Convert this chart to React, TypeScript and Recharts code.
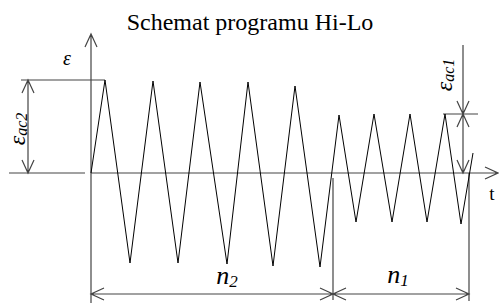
import React from 'react';
import { LineChart, Line, XAxis, YAxis, ReferenceLine, ReferenceDot } from 'recharts';

// Przebieg odkształcenia (czas, odkształcenie) odczytany ze schematu
const cycleT = [0, 14, 39, 62, 87, 109, 136, 157, 182, 204, 229, 248, 265, 283, 301, 319, 336, 354, 370, 382];
const strain = [0, 93, -90, 92, -90, 91, -91, 91, -93, 87, -94, 58, -49, 59, -49, 59, -49, 59, -51, 20];

// Poziomy amplitud i granice bloków
const epsAc2 = 93;
const epsAc1 = 59;
const blockEnd = 242;
const progEnd = 378;
const dimLevel = -121;

const data = cycleT.map((t, i) => ({ t, eps: strain[i] }));

const SERIF = '"Liberation Serif", "Times New Roman", serif';
const AXIS = '#444';

function head(x: number, y: number, dx: number, dy: number) {
  const L = 13, W = 6;
  const bx = x - dx * L, by = y - dy * L;
  const px = -dy, py = dx;
  return `M${bx + px * W},${by + py * W}L${x},${y}L${bx - px * W},${by - py * W}`;
}

const dimLine = (start: boolean, end: boolean, color = AXIS, w = 1.2) => (p: any) => {
  const { x1, y1, x2, y2 } = p;
  const len = Math.hypot(x2 - x1, y2 - y1) || 1;
  const dx = (x2 - x1) / len, dy = (y2 - y1) / len;
  let d = `M${x1},${y1}L${x2},${y2}`;
  if (end) d += head(x2, y2, dx, dy);
  if (start) d += head(x1, y1, -dx, -dy);
  return <path d={d} fill="none" stroke={color} strokeWidth={w} />;
};

const seg = (xa: number, ya: number, xb: number, yb: number, start = false, end = false) => (
  <ReferenceLine
    segment={[{ x: xa, y: ya }, { x: xb, y: yb }]}
    ifOverflow="visible"
    shape={dimLine(start, end)}
  />
);

const textAt = (x: number, y: number, render: (cx: number, cy: number) => React.ReactNode) => (
  <ReferenceDot
    x={x}
    y={y}
    r={0}
    fill="none"
    stroke="none"
    ifOverflow="visible"
    label={{ content: (p: any) => render(p.viewBox.x, p.viewBox.y) }}
  />
);

export default function App() {
  return (
    <div style={{ position: 'fixed', left: 0, top: 0, width: 499, height: 303, background: '#fff' }}>
      <LineChart width={499} height={303} data={data} margin={{ top: 0, right: 0, bottom: 0, left: 0 }}>
        <XAxis dataKey="t" type="number" domain={[-91, 408]} allowDataOverflow hide />
        <YAxis type="number" domain={[-130, 173]} allowDataOverflow hide />

        {/* osie */}
        {seg(0, -130, 0, 139, false, true)}
        {seg(0, 0, 407, 0, false, true)}

        {/* wymiar eps_ac2 */}
        {seg(-70, epsAc2, 14, epsAc2)}
        {seg(-82, 0, -6, 0)}
        {seg(-63, 0, -63, epsAc2, true, true)}

        {/* wymiar eps_ac1 */}
        {seg(352, epsAc1, 387, epsAc1)}
        {seg(372, 128, 372, epsAc1, false, true)}
        {seg(372, epsAc1, 372, 0, true, true)}

        {/* wymiary n2, n1 */}
        {seg(blockEnd, -5, blockEnd, -127)}
        {seg(progEnd, 0, progEnd, -128)}
        {seg(0, dimLevel, blockEnd, dimLevel, true, true)}
        {seg(blockEnd, dimLevel, progEnd, dimLevel, true, true)}

        <Line
          type="linear"
          dataKey="eps"
          stroke="#000"
          strokeWidth={1}
          dot={false}
          activeDot={false}
          isAnimationActive={false}
        />

        {textAt(159, 143, (x, y) => (
          <text x={x} y={y} textAnchor="middle" fontFamily={SERIF} fontSize={24} fill="#000">
            Schemat programu Hi-Lo
          </text>
        ))}
        {textAt(-24, 108, (x, y) => (
          <text x={x} y={y} textAnchor="middle" fontFamily={SERIF} fontSize={20} fontStyle="italic" fill="#000">
            ε
          </text>
        ))}
        {textAt(-74, 44, (x, y) => (
          <text x={x} y={y} transform={`rotate(-90 ${x} ${y})`} textAnchor="middle" dominantBaseline="central"
            fontFamily={SERIF} fontStyle="italic" fill="#000">
            <tspan fontSize={24}>ε</tspan>
            <tspan fontSize={16} dy={4}>ac2</tspan>
          </text>
        ))}
        {textAt(353, 98, (x, y) => (
          <text x={x} y={y} transform={`rotate(-90 ${x} ${y})`} textAnchor="middle" dominantBaseline="central"
            fontFamily={SERIF} fontStyle="italic" fill="#000">
            <tspan fontSize={24}>ε</tspan>
            <tspan fontSize={16} dy={4}>ac1</tspan>
          </text>
        ))}
        {textAt(136, -111, (x, y) => (
          <text x={x} y={y} textAnchor="middle" fontFamily={SERIF} fontStyle="italic" fill="#000">
            <tspan fontSize={26}>n</tspan>
            <tspan fontSize={17} dy={3}>2</tspan>
          </text>
        ))}
        {textAt(307, -110, (x, y) => (
          <text x={x} y={y} textAnchor="middle" fontFamily={SERIF} fontStyle="italic" fill="#000">
            <tspan fontSize={26}>n</tspan>
            <tspan fontSize={17} dy={3}>1</tspan>
          </text>
        ))}
        {textAt(401, -27, (x, y) => (
          <text x={x} y={y} textAnchor="middle" fontFamily={SERIF} fontSize={19} fill="#000">
            t
          </text>
        ))}
      </LineChart>
    </div>
  );
}
